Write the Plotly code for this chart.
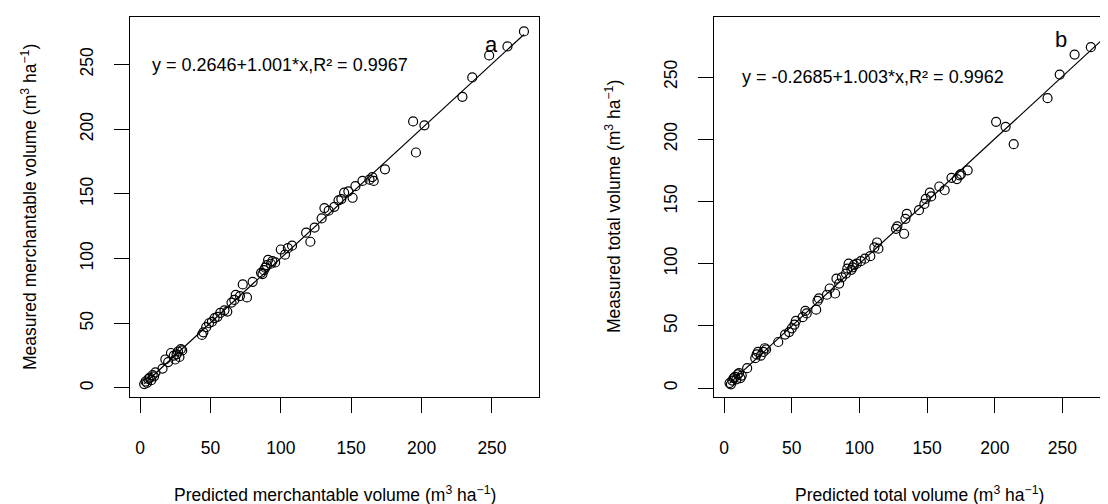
import plotly.graph_objects as go

# ---- data ----
merch_pred = [3, 4, 5, 6, 7, 8, 9, 10, 11, 16, 18, 20, 22, 24, 25, 26, 27, 28, 29, 30,
              44, 45, 47, 49, 51, 53, 55, 57, 60, 62, 65, 67, 68, 71, 73, 76, 80,
              86, 87, 88, 89, 90, 91, 93, 94, 96, 100, 103, 105, 108,
              118, 121, 124, 129, 131, 134, 138, 141, 143, 145, 148, 151, 153, 158, 163, 165, 166, 174,
              194, 196, 202, 229, 236, 248, 261, 272.7]
merch_meas = [3, 5, 4, 7, 8, 6, 10, 9, 12, 15, 22, 20, 27, 25, 22, 26, 28, 24, 30, 29,
              41, 43, 47, 50, 51, 54, 55, 58, 60, 59, 66, 68, 72, 71, 80, 70, 82,
              89, 88, 91, 93, 95, 99, 96, 98, 97, 107, 103, 108, 110,
              120, 113, 124, 131, 139, 137, 140, 145, 146, 151, 152, 147, 156, 160, 161, 163, 160, 169,
              206, 182, 203, 225, 240, 257, 264, 275.6]

total_pred = [4, 5, 6, 7, 8, 9, 10, 11, 12, 13, 17, 23, 24, 25, 27, 29, 30, 31,
              40, 45, 48, 50, 52, 53, 58, 60, 61, 68, 69, 70, 76, 78, 82, 83, 85, 87,
              90, 91, 92, 94, 95, 96, 98, 101, 104, 108, 111, 113, 114,
              127, 128, 133, 134, 135, 144, 148, 149, 152, 153, 159, 163, 168, 172, 174, 175, 180,
              201, 208, 214, 239, 248, 259, 271, 284]
total_meas = [4, 3, 6, 8, 9, 7, 11, 12, 8, 10, 16, 24, 27, 29, 26, 29, 32, 31,
              37, 43, 45, 48, 51, 54, 57, 62, 60, 63, 70, 72, 75, 80, 76, 88, 84, 89,
              92, 96, 100, 95, 97, 99, 100, 102, 104, 106, 113, 117, 112,
              128, 130, 124, 136, 140, 143, 148, 152, 157, 154, 162, 159, 169, 168, 171, 172, 175,
              214, 210, 196, 233, 252, 268, 274, 287]

merch_coef = (0.2646, 1.001)
total_coef = (-0.2685, 1.003)
merch_eq = "y = 0.2646+1.001*x,R² = 0.9967"
total_eq = "y = -0.2685+1.003*x,R² = 0.9962"
tick_vals = [0, 50, 100, 150, 200, 250]

FONT = "Liberation Sans, Arial, sans-serif"
W, H = 1108, 504

fig = go.Figure()

def add_panel(pred, meas, coef, xa, ya):
    fig.add_trace(go.Scatter(
        x=pred, y=meas, mode="markers", xaxis=xa, yaxis=ya,
        marker=dict(symbol="circle-open", size=9, color="black",
                    line=dict(width=1.2, color="black")),
        showlegend=False, hoverinfo="skip"))
    x0, x1 = min(pred), max(pred)
    fig.add_trace(go.Scatter(
        x=[x0, x1], y=[coef[0] + coef[1] * x0, coef[0] + coef[1] * x1],
        mode="lines", xaxis=xa, yaxis=ya,
        line=dict(color="black", width=1.2),
        showlegend=False, hoverinfo="skip"))

add_panel(merch_pred, merch_meas, merch_coef, "x", "y")
add_panel(total_pred, total_meas, total_coef, "x2", "y2")

def px_x(p):
    return p / W

def px_y(p):
    return (H - p) / H

ydom = [px_y(389), px_y(9.3)]
axis_common = dict(
    showgrid=False, zeroline=False, showline=True, linecolor="black", linewidth=1.3,
    ticks="outside", ticklen=15, tickwidth=1.3, tickcolor="black",
    tickvals=tick_vals, tickfont=dict(family=FONT, size=17.5, color="black"),
)

fig.update_layout(
    width=W, height=H, margin=dict(l=0, r=0, t=0, b=0),
    paper_bgcolor="white", plot_bgcolor="white",
    xaxis=dict(domain=[px_x(122), px_x(531)], range=[-7.1, 283.4], anchor="y",
               mirror=True, ticklabelstandoff=20, **axis_common),
    yaxis=dict(domain=ydom, range=[-7.0, 286.5], anchor="x",
               mirror=True, tickangle=-90, ticklabelstandoff=14, **axis_common),
    xaxis2=dict(domain=[px_x(706), 1.0], range=[-7.5, 289.6], anchor="y2",
                mirror=True, ticklabelstandoff=20, **axis_common),
    yaxis2=dict(domain=ydom, range=[-7.2, 298.0], anchor="x2",
                mirror=False, tickangle=-90, ticklabelstandoff=14, **axis_common),
)

ann_font = dict(family=FONT, size=17.5, color="black")
annotations = [
    dict(text=merch_eq, x=99.5, y=250, xref="x", yref="y", showarrow=False,
         xanchor="center", yanchor="middle", font=dict(family=FONT, size=18, color="black")),
    dict(text=total_eq, x=110, y=250, xref="x2", yref="y2", showarrow=False,
         xanchor="center", yanchor="middle", font=dict(family=FONT, size=18, color="black")),
    dict(text="a", x=250, y=265.5, xref="x", yref="y", showarrow=False,
         xanchor="center", yanchor="middle", font=dict(family=FONT, size=22, color="black")),
    dict(text="b", x=249, y=280, xref="x2", yref="y2", showarrow=False,
         xanchor="center", yanchor="middle", font=dict(family=FONT, size=22, color="black")),
    dict(text="Predicted merchantable volume (m<sup>3</sup> ha<sup>−1</sup>)",
         x=px_x(326.8), y=px_y(486), xref="paper", yref="paper", showarrow=False,
         xanchor="center", yanchor="middle", font=ann_font),
    dict(text="Predicted total volume (m<sup>3</sup> ha<sup>−1</sup>)",
         x=px_x(911), y=px_y(486), xref="paper", yref="paper", showarrow=False,
         xanchor="center", yanchor="middle", font=ann_font),
    dict(text="Measured merchantable volume (m<sup>3</sup> ha<sup>−1</sup>)",
         x=px_x(21), y=px_y(199), xref="paper", yref="paper", showarrow=False,
         textangle=-90, xanchor="center", yanchor="middle", font=ann_font),
    dict(text="Measured total volume (m<sup>3</sup> ha<sup>−1</sup>)",
         x=px_x(605), y=px_y(199), xref="paper", yref="paper", showarrow=False,
         textangle=-90, xanchor="center", yanchor="middle", font=ann_font),
]
fig.update_layout(annotations=annotations)

fig.write_html("out.html")
